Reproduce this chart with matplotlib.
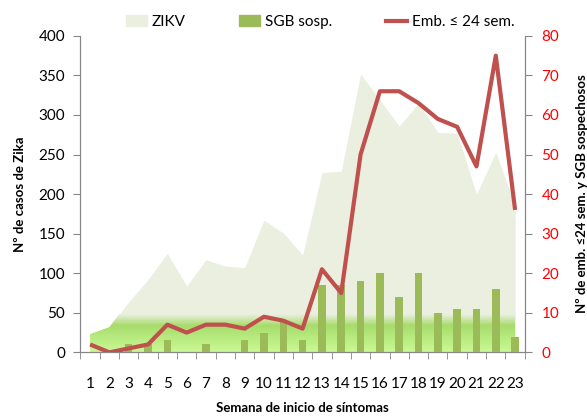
import numpy as np
import matplotlib
matplotlib.use("Agg")
import matplotlib.pyplot as plt
from matplotlib.patches import Patch
from matplotlib.lines import Line2D
from matplotlib.colors import LinearSegmentedColormap

plt.rcParams["font.family"] = ["Lato", "DejaVu Sans"]

weeks = list(range(1, 24))
zikv = [23, 32, 64, 92, 125, 84, 117, 109, 107, 167, 151, 123, 227, 229,
        352, 319, 286, 315, 278, 277, 200, 253, 185]
sgb = [0, 0, 2, 2, 3, 0, 2, 0, 3, 5, 8, 3, 17, 17,
       18, 20, 14, 20, 10, 11, 11, 16, 4]
emb = [2, 0, 1, 2, 7, 5, 7, 7, 6, 9, 8, 6, 21, 15,
       50, 66, 66, 63, 59, 57, 47, 75, 36]

C_AREA = "#EBEFDF"
C_BAR = "#9BBB59"
C_LINE = "#C0504D"
C_AXIS = "#868686"

fig = plt.figure(figsize=(5.87, 4.17), dpi=100)
ax = fig.add_axes([0.137, 0.155, 0.757, 0.759])
ax2 = ax.twinx()

x = np.array(weeks)
area = ax.fill_between(x, 0, zikv, color=C_AREA, lw=0, zorder=1)

# green glow at the bottom of the area
grad = LinearSegmentedColormap.from_list(
    "g", [(0.0, "#cbf893"), (0.35, "#b9ec82"), (0.7, "#a7dc6c"),
          (0.82, "#c2e49a"), (1.0, C_AREA)])
img = ax.imshow(np.linspace(0, 1, 200).reshape(-1, 1), cmap=grad, origin="lower",
                extent=[0.5, 23.5, 0, 48], aspect="auto", zorder=2)
img.set_clip_path(area.get_paths()[0], transform=ax.transData)

ax2.bar(x, sgb, width=0.39, color=C_BAR, zorder=3)
ax2.plot(x, emb, color=C_LINE, lw=3, solid_capstyle="butt", zorder=4)

ax.set_xlim(0.5, 23.5)
ax.set_ylim(0, 400)
ax2.set_ylim(0, 80)
ax.set_yticks(range(0, 401, 50))
ax2.set_yticks(range(0, 81, 10))

ax.set_xticks(x)
ax.set_xticklabels([str(w) for w in weeks])
ax.set_xticks(np.arange(0.5, 24, 1), minor=True)
ax.tick_params(axis="x", which="major", length=0, pad=18, labelsize=11)
ax.tick_params(axis="x", which="minor", length=5, color=C_AXIS)
ax.tick_params(axis="y", length=5, color=C_AXIS, pad=6, labelsize=11)
ax2.tick_params(axis="y", length=5, color=C_AXIS, pad=7, labelsize=11, labelcolor="#FF0000")

for a in (ax, ax2):
    a.spines["top"].set_visible(False)
    for s in ("left", "right", "bottom"):
        a.spines[s].set_color(C_AXIS)
ax.set_zorder(0)

ax.set_xlabel("Semana de inicio de síntomas", fontsize=9.5, fontweight="bold", labelpad=8)
ax.set_ylabel("Nº de casos de Zika", fontsize=9.5, fontweight="bold", labelpad=9)
ax2.set_ylabel("Nº de emb. ≤24 sem. y SGB sospechosos", fontsize=9.5,
               fontweight="bold", rotation=90, labelpad=12)

handles = [Patch(color=C_AREA), Patch(color=C_BAR), Line2D([], [], color=C_LINE, lw=3)]
fig.legend(handles, ["ZIKV", "SGB sosp.", "Emb. ≤ 24 sem."], loc="center",
           bbox_to_anchor=(0.545, 0.947), ncol=3, frameon=False, fontsize=11,
           handlelength=1.4, handleheight=0.7, handletextpad=0.3, columnspacing=3.5)

fig.savefig("out.png", dpi=100)
